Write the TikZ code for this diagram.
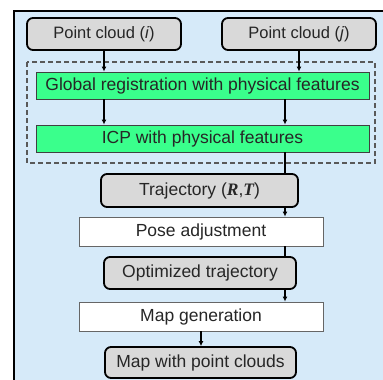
\documentclass[tikz,border=0pt]{standalone}
\usepackage{fontspec}
\setmainfont{Liberation Sans}
\newfontfamily\serifrt{Liberation Serif}
\usetikzlibrary{arrows.meta}

\definecolor{bgblue}{RGB}{214,234,249}
\definecolor{regreen}{RGB}{58,255,140}
\definecolor{boxgray}{RGB}{217,217,217}

\tikzset{
	data/.style={draw=black, fill=boxgray, line width=1.8pt, rounded corners=6pt, inner sep=0pt},
	proc/.style={draw=black!75, fill=regreen, line width=0.9pt, inner sep=0pt},
	task/.style={draw=black!60, fill=white, line width=0.9pt, inner sep=0pt},
	flow/.style={line width=1.4pt, black},
	flowarr/.style={flow, -{Latex[length=5pt, width=5pt]}},
	every node/.style={font=\fontsize{17.5}{20}\selectfont, text=black!85}
}

\begin{document}
\begin{tikzpicture}[x=1pt, y=-1pt]
		\useasboundingbox (0,0) rectangle (383,380);
		\clip (0,0) rectangle (383,380);

		\fill [bgblue, draw=black, line width=2pt] (14,11) rectangle (395,395);

		\draw [dashed, black!65, line width=1.2pt, dash pattern=on 5pt off 3pt] (27,62) rectangle (375,163);

		\node [data, minimum width=154pt, minimum height=32pt, font=\fontsize{16.5}{20}\selectfont] (pci) at (104,34) {Point cloud (\textit{i})};
		\node [data, minimum width=154pt, minimum height=32pt, font=\fontsize{16.5}{20}\selectfont] (pcj) at (299,34) {Point cloud (\textit{j})};
		\node [proc, minimum width=333pt, minimum height=27pt] (glob) at (202.5,85.5) {Global registration with physical features};
		\node [proc, minimum width=333pt, minimum height=27pt] (icp) at (202.5,138.5) {ICP with physical features};
		\node [data, minimum width=197pt, minimum height=33pt] (traj) at (199.5,190.5) {Trajectory ({\serifrt\bfseries\itshape R},{\serifrt\bfseries\itshape T})};
		\node [task, minimum width=244pt, minimum height=29pt] (pose) at (201,231.5) {Pose adjustment};
		\node [data, minimum width=192pt, minimum height=32pt] (opt) at (200,273) {Optimized trajectory};
		\node [task, minimum width=244pt, minimum height=29pt] (mapgen) at (201,316.5) {Map generation};
		\node [data, minimum width=191pt, minimum height=31pt] (mappc) at (200.5,362.5) {Map with point clouds};

		\coordinate (rx) at (285,0);

		\draw [flowarr] (pci.south) -- (glob.north -| pci.south);
		\draw [flowarr] (pcj.south) -- (glob.north -| pcj.south);
		\draw [flowarr] (glob.south -| pci.south) -- (icp.north -| pci.south);
		\draw [flowarr] (glob.south -| rx) -- (icp.north -| rx);
		\draw [flow] (icp.south -| rx) -- (traj.north -| rx);
		\draw [flowarr] (traj.south -| rx) -- (pose.north -| rx);
		\draw [flow] (pose.south -| rx) -- (opt.north -| rx);
		\draw [flowarr] (opt.south -| rx) -- (mapgen.north -| rx);
		\draw [flowarr] (mapgen.south) -- (mappc.north -| mapgen.south);

		\end{tikzpicture}
\end{document}
